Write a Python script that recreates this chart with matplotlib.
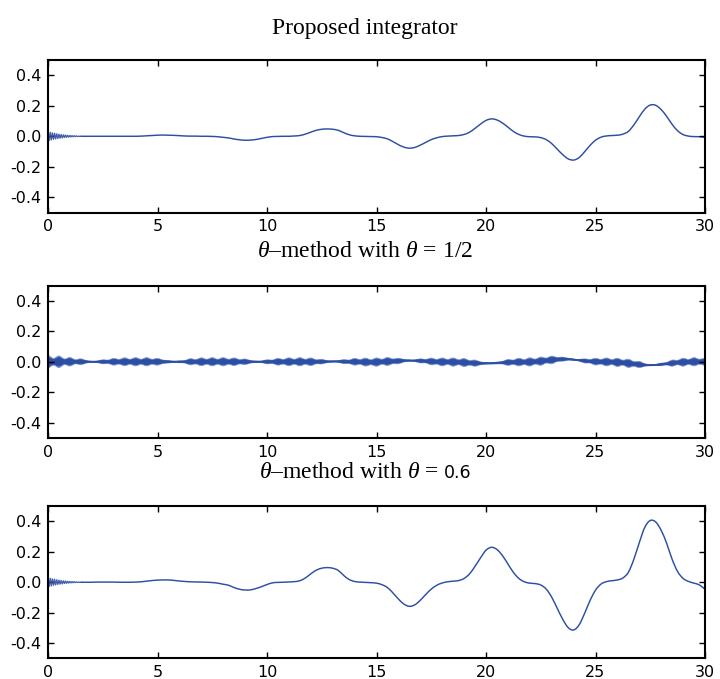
import numpy as np
import matplotlib
matplotlib.use("Agg")
import matplotlib.pyplot as plt
from matplotlib.path import Path
from matplotlib.patches import PathPatch

plt.rcParams['axes.unicode_minus'] = False
plt.rcParams['mathtext.fontset'] = 'custom'
plt.rcParams['mathtext.rm'] = 'Liberation Serif'
plt.rcParams['mathtext.it'] = 'Liberation Serif:italic'
plt.rcParams['mathtext.sf'] = 'DejaVu Sans'

# ---------------- data ----------------
t_grid = np.arange(0, 30.001, 0.25)

# early high-frequency transient (t = 0 .. 1.4)
early_t = np.arange(0, 1.4001, 0.05)
early_vals = [0.030, -0.028, 0.026, -0.024, 0.022, -0.020, 0.019, -0.017, 0.016, -0.014,
              0.013, -0.012, 0.011, -0.010, 0.009, -0.008, 0.008, -0.007, 0.006, -0.005,
              0.005, -0.004, 0.004, -0.003, 0.003, -0.002, 0.002, -0.001, 0.000]

proposed = [0.000, 0.000, 0.000, 0.000, 0.000, 0.000, 0.000, 0.000, 0.000, 0.000,  # 0-2.25
            0.000, 0.000, 0.000, 0.000, 0.000, 0.000, 0.000, 0.001, 0.003, 0.005,  # 2.5-4.75
            0.007, 0.008, 0.007, 0.006, 0.004, 0.002, 0.001, 0.001, 0.000, 0.000,  # 5-7.25
            -0.001, -0.003, -0.007, -0.011, -0.018, -0.023, -0.026, -0.025, -0.021, -0.014,  # 7.5-9.75
            -0.007, -0.002, -0.001, 0.000, 0.000, 0.002, 0.005, 0.014, 0.027, 0.039,  # 10-12.25
            0.046, 0.048, 0.046, 0.039, 0.024, 0.010, 0.003, 0.000, -0.001, -0.002,  # 12.5-14.75
            -0.003, -0.008, -0.017, -0.035, -0.055, -0.071, -0.078, -0.073, -0.058, -0.040,  # 15-17.25
            -0.022, -0.010, -0.002, 0.001, 0.003, 0.005, 0.012, 0.027, 0.052, 0.080,  # 17.5-19.75
            0.104, 0.114, 0.107, 0.087, 0.060, 0.032, 0.012, 0.001, -0.003, -0.004,  # 20-22.25
            -0.009, -0.022, -0.048, -0.084, -0.120, -0.148, -0.156, -0.140, -0.102, -0.060,  # 22.5-24.75
            -0.026, -0.006, 0.002, 0.005, 0.007, 0.014, 0.032, 0.074, 0.128, 0.178,  # 25-27.25
            0.205, 0.203, 0.175, 0.130, 0.078, 0.036, 0.011, 0.001, -0.002, -0.003,  # 27.5-29.75
            -0.007]  # 30

theta06 = [0.000, 0.000, 0.000, 0.000, 0.000, 0.000, 0.000, 0.000, 0.000, 0.001,  # 0-2.25
           0.001, 0.001, 0.001, 0.000, 0.000, 0.000, 0.001, 0.003, 0.007, 0.011,  # 2.5-4.75
           0.014, 0.015, 0.015, 0.012, 0.008, 0.005, 0.003, 0.002, 0.001, 0.000,  # 5-7.25
           -0.002, -0.006, -0.013, -0.020, -0.035, -0.046, -0.051, -0.050, -0.041, -0.029,  # 7.5-9.75
           -0.015, -0.004, -0.001, 0.000, 0.002, 0.004, 0.010, 0.028, 0.055, 0.079,  # 10-12.25
           0.092, 0.096, 0.092, 0.078, 0.045, 0.018, 0.005, 0.001, -0.001, -0.003,  # 12.5-14.75
           -0.006, -0.016, -0.035, -0.070, -0.110, -0.143, -0.158, -0.148, -0.118, -0.080,  # 15-17.25
           -0.045, -0.020, -0.005, 0.003, 0.007, 0.011, 0.025, 0.055, 0.105, 0.160,  # 17.5-19.75
           0.210, 0.229, 0.215, 0.175, 0.120, 0.065, 0.025, 0.003, -0.006, -0.009,  # 20-22.25
           -0.018, -0.045, -0.098, -0.170, -0.242, -0.297, -0.313, -0.280, -0.205, -0.120,  # 22.5-24.75
           -0.052, -0.012, 0.004, 0.010, 0.015, 0.028, 0.065, 0.150, 0.260, 0.360,  # 25-27.25
           0.405, 0.395, 0.340, 0.255, 0.150, 0.070, 0.025, 0.005, -0.006, -0.018,  # 27.5-29.75
           -0.046]  # 30

# theta = 1/2: centre line of the oscillating band and its half-width
half_base = [0.000, 0.000, 0.000, 0.000, 0.000, 0.000, 0.000, 0.000, 0.000, 0.000,
             0.000, 0.000, 0.000, 0.000, 0.000, 0.000, 0.000, 0.000, 0.000, 0.000,
             0.000, 0.000, 0.000, 0.000, 0.000, 0.000, 0.000, 0.000, 0.000, 0.000,
             0.000, 0.000, 0.000, 0.000, 0.000, 0.000, 0.000, 0.000, 0.000, 0.000,
             0.000, 0.000, 0.000, 0.000, 0.000, 0.000, 0.000, 0.000, 0.000, 0.000,  # -12.25
             0.001, 0.001, 0.002, 0.002, 0.001, 0.000, 0.000, -0.001, -0.002, -0.003,  # 12.5-14.75
             -0.002, 0.000, 0.002, 0.003, 0.005, 0.007, 0.008, 0.007, 0.006, 0.004,  # 15-17.25
             0.002, 0.000, -0.001, -0.001, -0.002, -0.003, -0.005, -0.007, -0.009, -0.010,  # 17.5-19.75
             -0.010, -0.010, -0.008, -0.006, -0.004, -0.003, -0.002, -0.002, -0.001, 0.001,  # 20-22.25
             0.004, 0.008, 0.012, 0.015, 0.017, 0.017, 0.014, 0.010, 0.006, 0.003,  # 22.5-24.75
             0.001, 0.000, -0.001, -0.002, -0.004, -0.006, -0.010, -0.014, -0.018, -0.021,  # 25-27.25
             -0.022, -0.021, -0.017, -0.013, -0.009, -0.005, -0.003, -0.001, 0.000, 0.000,  # 27.5-29.75
             0.000]

half_width = [0.045, 0.022, 0.038, 0.018, 0.028, 0.013, 0.019, 0.008, 0.004, 0.005,  # 0-2.25
              0.013, 0.011, 0.022, 0.015, 0.026, 0.016, 0.027, 0.016, 0.027, 0.016,  # 2.5-4.75
              0.022, 0.011, 0.008, 0.004, 0.006, 0.008, 0.020, 0.014, 0.026, 0.016,  # 5-7.25
              0.027, 0.016, 0.027, 0.016, 0.025, 0.014, 0.018, 0.008, 0.005, 0.005,  # 7.5-9.75
              0.013, 0.011, 0.022, 0.015, 0.026, 0.016, 0.027, 0.016, 0.025, 0.013,  # 10-12.25
              0.015, 0.006, 0.004, 0.005, 0.013, 0.011, 0.022, 0.015, 0.026, 0.016,  # 12.5-14.75
              0.027, 0.016, 0.026, 0.015, 0.018, 0.008, 0.004, 0.005, 0.013, 0.011,  # 15-17.25
              0.022, 0.015, 0.026, 0.016, 0.027, 0.016, 0.026, 0.015, 0.020, 0.009,  # 17.5-19.75
              0.005, 0.004, 0.006, 0.008, 0.019, 0.014, 0.025, 0.016, 0.027, 0.016,  # 20-22.25
              0.027, 0.016, 0.025, 0.013, 0.013, 0.006, 0.004, 0.005, 0.013, 0.011,  # 22.5-24.75
              0.022, 0.015, 0.026, 0.016, 0.027, 0.016, 0.027, 0.015, 0.020, 0.008,  # 25-27.25
              0.004, 0.004, 0.008, 0.008, 0.020, 0.014, 0.026, 0.016, 0.027, 0.016,  # 27.5-29.75
              0.025]

titles = ["Proposed integrator",
          r"$\theta$–method with $\theta\,=\,1/2$",
          r"$\theta$–method with $\theta\,=$"]
title3_number = "0.6"
xticks = [0, 5, 10, 15, 20, 25, 30]
yticks = [-0.4, -0.2, 0.0, 0.2, 0.4]
ytick_labels = ["-0.4", "-0.2", "0.0", "0.2", "0.4"]


# ---------------- helpers ----------------
def bezier_segments(x, y):
    """Smooth cubic Bezier (Catmull-Rom) vertices through the given points."""
    pts = np.column_stack([x, y]).astype(float)
    n = len(pts)
    verts = []
    for i in range(n - 1):
        p0 = pts[i - 1] if i > 0 else pts[i]
        p1 = pts[i]
        p2 = pts[i + 1]
        p3 = pts[i + 2] if i + 2 < n else pts[i + 1]
        verts += [p1 + (p2 - p0) / 6.0, p2 - (p3 - p1) / 6.0, p2]
    return pts[0], verts


def smooth_line_path(x, y):
    start, verts = bezier_segments(x, y)
    return Path([start] + verts, [Path.MOVETO] + [Path.CURVE4] * len(verts))


def smooth_band_path(x, lo, hi):
    s1, v1 = bezier_segments(x, hi)
    s2, v2 = bezier_segments(x[::-1], lo[::-1])
    verts = [s1] + v1 + [s2] + v2 + [s1]
    codes = ([Path.MOVETO] + [Path.CURVE4] * len(v1) + [Path.LINETO]
             + [Path.CURVE4] * len(v2) + [Path.CLOSEPOLY])
    return Path(verts, codes)


# ---------------- plot ----------------
color = '#2d4fa3'
fig = plt.figure(figsize=(7.2, 6.79), dpi=100)
W = 657 / 720
H = 152.5 / 679
L = 48 / 720
bottoms = [0.687, 0.3549, 0.0302]
title_y = [0.950, 0.6215, 0.2965]
axes = [fig.add_axes([L, b, W, H]) for b in bottoms]

m = t_grid >= 1.5
for ax, vals in ((axes[0], proposed), (axes[2], theta06)):
    v = np.array(vals)
    ax.plot(np.append(early_t, t_grid[m][0]), np.append(early_vals, v[m][0]),
            color=color, lw=1.0, alpha=0.9)
    ax.add_patch(PathPatch(smooth_line_path(t_grid[m], v[m]), fill=False,
                           edgecolor=color, lw=1.05))

hb = np.array(half_base)
hw = np.array(half_width)
axes[1].add_patch(PathPatch(smooth_band_path(t_grid, hb - hw, hb + hw),
                            facecolor='#5d7bc2', edgecolor='#7f96d2', lw=0.6))
axes[1].add_patch(PathPatch(smooth_band_path(t_grid, hb - 0.7 * hw, hb + 0.7 * hw),
                            facecolor=color, edgecolor=color, lw=0.5))
axes[1].add_patch(PathPatch(smooth_line_path(t_grid, hb), fill=False,
                            edgecolor=color, lw=1.3))

for ax in axes:
    ax.set_xlim(0, 30)
    ax.set_ylim(-0.5, 0.5)
    ax.set_xticks(xticks)
    ax.set_xticklabels([str(x) for x in xticks])
    ax.set_yticks(yticks)
    ax.set_yticklabels(ytick_labels)
    ax.tick_params(direction='in', top=True, right=True, length=4, width=1.0,
                   labelsize=11.5, pad=5)
    for s in ax.spines.values():
        s.set_linewidth(1.5)

cx = 0.507
for title, ty in zip(titles[:2], title_y[:2]):
    fig.text(cx, ty, title, ha='center', va='baseline',
             fontsize=17, family='Liberation Serif')

# third title: serif part followed by a sans-serif number
renderer = fig.canvas.get_renderer()
t_a = fig.text(0, title_y[2], titles[2], ha='left', va='baseline',
               fontsize=17, family='Liberation Serif')
t_b = fig.text(0, title_y[2], title3_number, ha='left', va='baseline',
               fontsize=12.5, family='DejaVu Sans')
gap = 5 / fig.bbox.width
wa = t_a.get_window_extent(renderer).width / fig.bbox.width
wb = t_b.get_window_extent(renderer).width / fig.bbox.width
x0 = cx - (wa + gap + wb) / 2
t_a.set_x(x0)
t_b.set_x(x0 + wa + gap)

fig.savefig("out.png", dpi=100)
